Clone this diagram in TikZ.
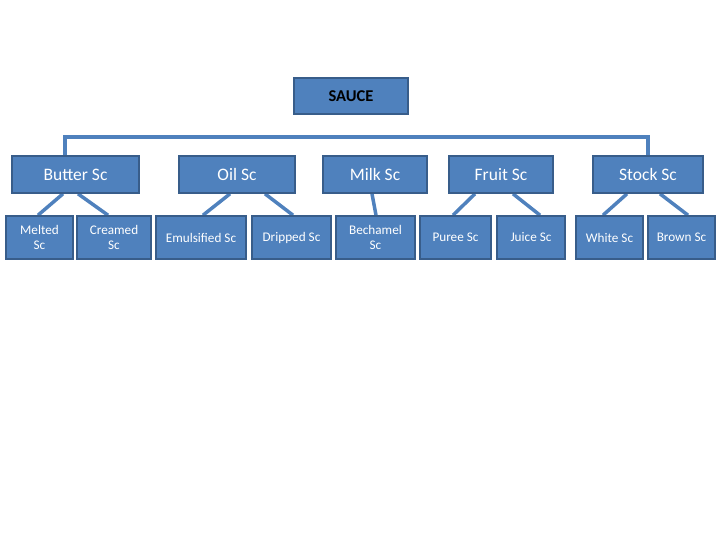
\documentclass[tikz,border=0pt]{standalone}
\usepackage{fontspec}
\setmainfont{Carlito}
\usepackage{tikz}
\usetikzlibrary{calc, backgrounds}

\definecolor{boxfill}{HTML}{4F81BD}
\definecolor{boxline}{HTML}{385D8A}

\begin{document}
\begin{tikzpicture}[x=1pt, y=-1pt,
    box/.style={draw=boxline, line width=1.6pt, fill=boxfill, text=white,
      inner sep=1pt, align=center},
    topbox/.style={box, text=black, font=\fontsize{16.5}{18}\selectfont\bfseries,
      minimum width=114pt, minimum height=36pt},
    midbox/.style={box, font=\fontsize{17.5}{19}\selectfont, minimum height=37pt},
    leafbox/.style={box, font=\fontsize{13.2}{15}\selectfont, minimum height=43pt},
    link/.style={boxfill, line width=3.5pt}]
                \useasboundingbox (0,0) rectangle (720,540);

                % Root
                \node[topbox] (sauce) at (351,96) {SAUCE};

                % Second row
                \node[midbox, minimum width=127pt] (butter) at (75.5,174.5) {Butter Sc};
                \node[midbox, minimum width=116pt] (oil) at (237,174.5) {Oil Sc};
                \node[midbox, minimum width=104pt] (milk) at (375,174.5) {Milk Sc};
                \node[midbox, minimum width=104pt] (fruit) at (501,174.5) {Fruit Sc};
                \node[midbox, minimum width=110pt] (stock) at (648,174.5) {Stock Sc};

                % Bottom row
                \node[leafbox, minimum width=67pt] (melted) at (39.5,237.5) {Melted\\Sc};
                \node[leafbox, minimum width=74pt] (creamed) at (114,237.5) {Creamed\\Sc};
                \node[leafbox, minimum width=90pt] (emulsified) at (201,237.5) {Emulsified Sc};
                \node[leafbox, minimum width=79pt] (dripped) at (291.5,237.5) {Dripped Sc};
                \node[leafbox, minimum width=79pt] (bechamel) at (375.5,237.5) {Bechamel\\Sc};
                \node[leafbox, minimum width=71pt] (puree) at (455.5,237.5) {Puree Sc};
                \node[leafbox, minimum width=68pt] (juice) at (531,237.5) {Juice Sc};
                \node[leafbox, minimum width=67pt] (white) at (609.5,237.5) {White Sc};
                \node[leafbox, minimum width=67pt] (brown) at (681.5,237.5) {Brown Sc};

                % Bus under the root
                \coordinate (busL) at (65,137);
                \coordinate (busR) at (648,137);

                \begin{scope}[on background layer]
                % Root down to the bus, bus across
                \draw[link] ($(sauce.south)+(2,0)$) -- ($(sauce.south)+(2,0)$ |- busL);
                \draw[link, line cap=rect] (busL) -- (busR);
                \draw[link] (butter.north -| busL) -- (busL);
                \draw[link] ($(oil.north)+(-4,0)$) -- ($(oil.north)+(-4,0)$ |- busL);
                \draw[link] ($(milk.north)+(-3,0)$) -- ($(milk.north)+(-3,0)$ |- busL);
                \draw[link] ($(fruit.north)+(-4,0)$) -- ($(fruit.north)+(-4,0)$ |- busL);
                \draw[link] (stock.north) -- (busR);

                % Second row down to bottom row
                \draw[link] ($(butter.south)+(-12.5,0)$) -- ($(melted.north)+(-1.5,0)$);
                \draw[link] ($(butter.south)+(2.5,0)$) -- ($(creamed.north)+(-6,0)$);
                \draw[link] ($(oil.south)+(-7,0)$) -- ($(emulsified.north)+(2,0)$);
                \draw[link] ($(oil.south)+(28,0)$) -- ($(dripped.north)+(1.5,0)$);
                \draw[link] ($(milk.south)+(-3,0)$) -- ($(bechamel.north)+(0.5,0)$);
                \draw[link] ($(fruit.south)+(-26,0)$) -- ($(puree.north)+(-2.5,0)$);
                \draw[link] ($(fruit.south)+(12,0)$) -- ($(juice.north)+(9,0)$);
                \draw[link] ($(stock.south)+(-21,0)$) -- ($(white.north)+(-6.5,0)$);
                \draw[link] ($(stock.south)+(12,0)$) -- ($(brown.north)+(6.5,0)$);
                \end{scope}
\end{tikzpicture}
\end{document}
